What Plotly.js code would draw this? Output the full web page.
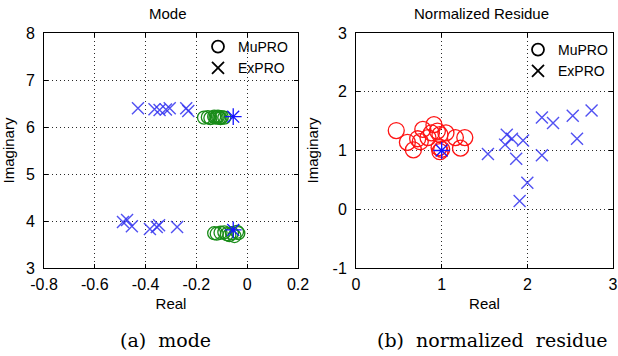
<!DOCTYPE html>
<html>
<head>
<meta charset="utf-8">
<script src="https://cdn.plot.ly/plotly-3.0.1.min.js"></script>
<style>html,body{margin:0;padding:0;background:#fff;}#chart{width:618px;height:356px;}</style>
</head>
<body>
<div id="chart"></div>
<script>
// ---- (a) Mode ----
const modeMuReal = [-0.17, -0.155, -0.145, -0.13, -0.125, -0.12, -0.115, -0.11, -0.105, -0.10, -0.09,
                    -0.13, -0.12, -0.105, -0.09, -0.08, -0.07, -0.06, -0.05, -0.04, -0.035];
const modeMuImag = [6.20, 6.21, 6.19, 6.22, 6.20, 6.21, 6.22, 6.20, 6.19, 6.21, 6.20,
                    3.74, 3.73, 3.75, 3.76, 3.72, 3.70, 3.74, 3.68, 3.77, 3.74];
const modeExReal = [-0.43, -0.365, -0.345, -0.32, -0.305, -0.24, -0.232,
                    -0.489, -0.473, -0.454, -0.383, -0.356, -0.347, -0.276];
const modeExImag = [6.40, 6.38, 6.36, 6.37, 6.40, 6.40, 6.34,
                    3.98, 4.02, 3.89, 3.83, 3.87, 3.91, 3.87];
const modeRefReal = [-0.055, -0.055];
const modeRefImag = [6.22, 3.81];

// ---- (b) Normalized residue ----
const resMuReal = [0.47, 0.60, 0.67, 0.72, 0.78, 0.84, 0.75, 0.91, 0.95, 0.98, 0.97, 0.98, 1.00, 1.16, 1.27, 1.22, 1.05, 0.88];
const resMuImag = [1.34, 1.14, 1.01, 1.20, 1.36, 1.22, 1.15, 1.44, 1.33, 1.27, 1.05, 0.98, 1.02, 1.22, 1.22, 1.04, 1.30, 1.30];
const resExReal = [1.54, 1.76, 1.74, 1.82, 1.95, 1.87, 2.17, 2.00, 1.91, 2.17, 2.30, 2.53, 2.58, 2.75];
const resExImag = [0.94, 1.27, 1.10, 1.20, 1.17, 0.86, 0.92, 0.45, 0.14, 1.56, 1.47, 1.59, 1.20, 1.68];
const resRefReal = [1.0];
const resRefImag = [1.0];

// ---- axes / labels ----
const modeXTicks = [-0.8, -0.6, -0.4, -0.2, 0, 0.2];
const modeXText = ['-0.8', '-0.6', '-0.4', '-0.2', '0', '0.2'];
const modeYTicks = [3, 4, 5, 6, 7, 8];
const resXTicks = [0, 1, 2, 3];
const resYTicks = [-1, 0, 1, 2, 3];
const resYText = ['-1', '0', '1', '2', '3'];
const panelTitles = ['Mode', 'Normalized Residue'];
const captions = ['(a)\u00a0\u00a0mode', '(b)\u00a0\u00a0normalized\u00a0\u00a0residue'];
const legendNames = ['MuPRO', 'ExPRO'];

const blueX = 'rgba(50,50,240,0.85)';
const green = 'rgb(25,140,25)';
const red = 'rgb(255,20,20)';
const astBlue = 'rgb(20,20,255)';
const sans = 'Liberation Sans, Arial, sans-serif';

function circ(x, y, color, size, xa, ya) {
  return {x, y, xaxis: xa, yaxis: ya, type: 'scatter', mode: 'markers', showlegend: false, hoverinfo: 'skip',
    marker: {symbol: 'circle-open', size, color, line: {color, width: 1.3}}};
}
function cross(x, y, xa, ya) {
  return {x, y, xaxis: xa, yaxis: ya, type: 'scatter', mode: 'markers', showlegend: false, hoverinfo: 'skip',
    marker: {symbol: 'x-thin-open', size: 12, color: blueX, line: {color: blueX, width: 1.4}}};
}
function ast(x, y, xa, ya) {
  return {x, y, xaxis: xa, yaxis: ya, type: 'scatter', mode: 'markers', showlegend: false, hoverinfo: 'skip',
    marker: {symbol: 'asterisk-open', size: 14, color: astBlue, line: {color: astBlue, width: 1.3}}};
}
function legendItem(name, symbol, legend, xa, ya) {
  return {x: [null], y: [null], xaxis: xa, yaxis: ya, type: 'scatter', mode: 'markers', name, legend,
    marker: {symbol, size: 12, color: 'black', line: {color: 'black', width: 1.8}}};
}

const data = [
  circ(modeMuReal, modeMuImag, green, 13, 'x', 'y'),
  cross(modeExReal, modeExImag, 'x', 'y'),
  ast(modeRefReal, modeRefImag, 'x', 'y'),
  circ(resMuReal, resMuImag, red, 16, 'x2', 'y2'),
  cross(resExReal, resExImag, 'x2', 'y2'),
  ast(resRefReal, resRefImag, 'x2', 'y2'),
  legendItem(legendNames[0], 'circle-open', 'legend', 'x', 'y'),
  legendItem(legendNames[1], 'x-thin-open', 'legend', 'x', 'y'),
  legendItem(legendNames[0], 'circle-open', 'legend2', 'x2', 'y2'),
  legendItem(legendNames[1], 'x-thin-open', 'legend2', 'x2', 'y2')
];

function axisBase(extra) {
  return Object.assign({
    showline: true, mirror: 'ticks', linecolor: 'black', linewidth: 1,
    showgrid: true, gridcolor: 'rgb(40,40,40)', griddash: '1px,3px', gridwidth: 1,
    zeroline: false, ticks: 'inside', ticklen: 4, tickcolor: 'black',
    tickfont: {family: sans, size: 16, color: 'black'}, fixedrange: true
  }, extra);
}

const W = 618, H = 356;
const layout = {
  width: W, height: H, margin: {l: 0, r: 0, t: 0, b: 0},
  paper_bgcolor: 'white', plot_bgcolor: 'white',
  font: {family: sans, color: 'black'},
  xaxis: axisBase({domain: [44 / W, 298 / W], range: [-0.8, 0.2], tickmode: 'array', tickvals: modeXTicks, ticktext: modeXText,
    anchor: 'y', ticklabelstandoff: 2, title: {text: 'Real', font: {size: 15, color: 'black'}, standoff: 6}}),
  yaxis: axisBase({domain: [(H - 268) / H, (H - 33) / H], range: [3, 8], tickmode: 'array', tickvals: modeYTicks,
    anchor: 'x', ticklabelstandoff: 5, title: {text: 'Imaginary', font: {size: 15, color: 'black'}, standoff: 11}}),
  xaxis2: axisBase({domain: [356 / W, 613 / W], range: [0, 3], tickmode: 'array', tickvals: resXTicks,
    anchor: 'y2', ticklabelstandoff: 2, title: {text: 'Real', font: {size: 15, color: 'black'}, standoff: 6}}),
  yaxis2: axisBase({domain: [(H - 268) / H, (H - 33) / H], range: [-1, 3], tickmode: 'array', tickvals: resYTicks, ticktext: resYText,
    anchor: 'x2', ticklabelstandoff: 5, title: {text: 'Imaginary', font: {size: 15, color: 'black'}, standoff: 10}}),
  legend: {x: 293 / W, xanchor: 'right', y: (H - 31) / H, yanchor: 'top', bgcolor: 'rgba(0,0,0,0)',
    font: {family: sans, size: 14, color: 'black'}, tracegroupgap: 0, itemwidth: 30},
  legend2: {x: 613 / W, xanchor: 'right', y: (H - 34) / H, yanchor: 'top', bgcolor: 'rgba(0,0,0,0)',
    font: {family: sans, size: 14, color: 'black'}, tracegroupgap: 0, itemwidth: 30},
  annotations: [
    {text: panelTitles[0], xref: 'paper', yref: 'paper', x: 168 / W, y: (H - 14) / H, xanchor: 'center', yanchor: 'middle',
      showarrow: false, font: {family: sans, size: 15, color: 'black'}},
    {text: panelTitles[1], xref: 'paper', yref: 'paper', x: 482 / W, y: (H - 14) / H, xanchor: 'center', yanchor: 'middle',
      showarrow: false, font: {family: sans, size: 15, color: 'black'}},
    {text: captions[0], xref: 'paper', yref: 'paper', x: 166 / W, y: (H - 340) / H, xanchor: 'center', yanchor: 'middle',
      showarrow: false, font: {family: 'DejaVu Serif, serif', size: 19, color: 'black'}},
    {text: captions[1], xref: 'paper', yref: 'paper', x: 492 / W, y: (H - 340) / H, xanchor: 'center', yanchor: 'middle',
      showarrow: false, font: {family: 'DejaVu Serif, serif', size: 19, color: 'black'}}
  ],
  showlegend: true
};

Plotly.newPlot('chart', data, layout, {staticPlot: true, displayModeBar: false});
</script>
</body>
</html>
